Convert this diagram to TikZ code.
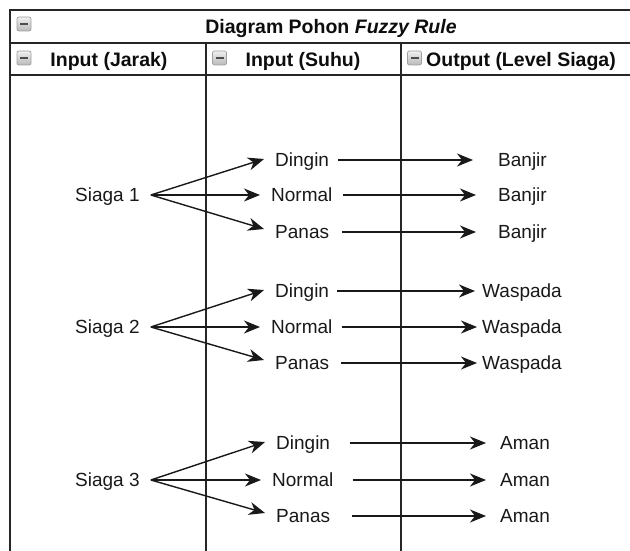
\documentclass[tikz,border=0pt]{standalone}
\usepackage{fontspec}
\setmainfont{Liberation Sans}
\usetikzlibrary{arrows.meta}
\begin{document}
\begin{tikzpicture}[x=1pt,y=-1pt,
  grid/.style={line width=1.4pt, draw=black!85},
  lbl/.style={font=\fontsize{19}{22}\selectfont, text=black!90, inner sep=0pt, anchor=west, text height=13.6pt, text depth=0pt},
  hdr/.style={font=\bfseries\fontsize{19.5}{22}\selectfont, text=black!95, inner sep=0pt, text height=14pt, text depth=0pt},
  icon/.style={draw=gray!75, rounded corners=2pt, top color=gray!12, bottom color=gray!55, minimum size=14pt, inner sep=0pt, line width=0.7pt},
  arr/.style={line width=1.4pt, draw=black!90, -{Stealth[length=16pt,width=13pt,inset=5pt]}}
]
\useasboundingbox (0,0) rectangle (630,551);
\fill[white] (0,0) rectangle (630,551);
% table frame
\draw[grid] (630,10) -- (10,10) -- (10,551);
\draw[grid] (10,43) -- (630,43);
\draw[grid] (10,75) -- (630,75);
\draw[grid] (206,43) -- (206,551);
\draw[grid] (401,43) -- (401,551);
% icons
\node[icon] (i0) at (24,24) {\color{black!70}\rule{8pt}{2pt}};
\node[icon] (i1) at (24,58) {\color{black!70}\rule{8pt}{2pt}};
\node[icon] (i2) at (219.5,58) {\color{black!70}\rule{8pt}{2pt}};
\node[icon] (i3) at (414.5,58) {\color{black!70}\rule{8pt}{2pt}};
% headers
\node[hdr] (title) at (331,27) {Diagram Pohon \textit{Fuzzy Rule}};
\node[hdr] (h1) at (109,60) {Input (Jarak)};
\node[hdr] (h2) at (303,60) {Input (Suhu)};
\node[hdr] (h3) at (521,60) {Output (Level Siaga)};
% group 1
\node[lbl] (s1) at (75,195) {Siaga 1};
\node[lbl] (d1) at (275,160) {Dingin};
\node[lbl] (n1) at (271,195) {Normal};
\node[lbl] (p1) at (275,232) {Panas};
\node[lbl] (o11) at (498,160) {Banjir};
\node[lbl] (o12) at (498,195) {Banjir};
\node[lbl] (o13) at (498,232) {Banjir};
% group 2
\node[lbl] (s2) at (75,327) {Siaga 2};
\node[lbl] (d2) at (275,291) {Dingin};
\node[lbl] (n2) at (271,327) {Normal};
\node[lbl] (p2) at (275,363) {Panas};
\node[lbl] (o21) at (482,291) {Waspada};
\node[lbl] (o22) at (482,327) {Waspada};
\node[lbl] (o23) at (482,363) {Waspada};
% group 3
\node[lbl] (s3) at (75,480) {Siaga 3};
\node[lbl] (d3) at (276,443) {Dingin};
\node[lbl] (n3) at (272,480) {Normal};
\node[lbl] (p3) at (276,516) {Panas};
\node[lbl] (o31) at (500,443) {Aman};
\node[lbl] (o32) at (500,480) {Aman};
\node[lbl] (o33) at (500,516) {Aman};
% fan arrows
\foreach \g in {1,2,3}{
  \draw[arr] ([xshift=11pt]s\g.east) -- ([xshift=-11pt,yshift=1pt]d\g.west);
  \draw[arr] ([xshift=11pt]s\g.east) -- ([xshift=-11pt]n\g.west);
  \draw[arr] ([xshift=11pt]s\g.east) -- ([xshift=-11pt,yshift=3pt]p\g.west);
}
% output arrows
\draw[arr] ([xshift=9pt]d1.east) -- ([xshift=-25pt]o11.west);
\draw[arr] ([xshift=10pt]n1.east) -- ([xshift=-22pt]o12.west);
\draw[arr] ([xshift=13pt]p1.east) -- ([xshift=-22pt]o13.west);
\draw[arr] ([xshift=8pt]d2.east) -- ([xshift=-7pt]o21.west);
\draw[arr] ([xshift=9pt]n2.east) -- ([xshift=-5pt]o22.west);
\draw[arr] ([xshift=12pt]p2.east) -- ([xshift=-5pt]o23.west);
\draw[arr] ([xshift=20pt]d3.east) -- ([xshift=-14pt]o31.west);
\draw[arr] ([xshift=19pt]n3.east) -- ([xshift=-14pt]o32.west);
\draw[arr] ([xshift=22pt]p3.east) -- ([xshift=-14pt]o33.west);
\end{tikzpicture}
\end{document}
